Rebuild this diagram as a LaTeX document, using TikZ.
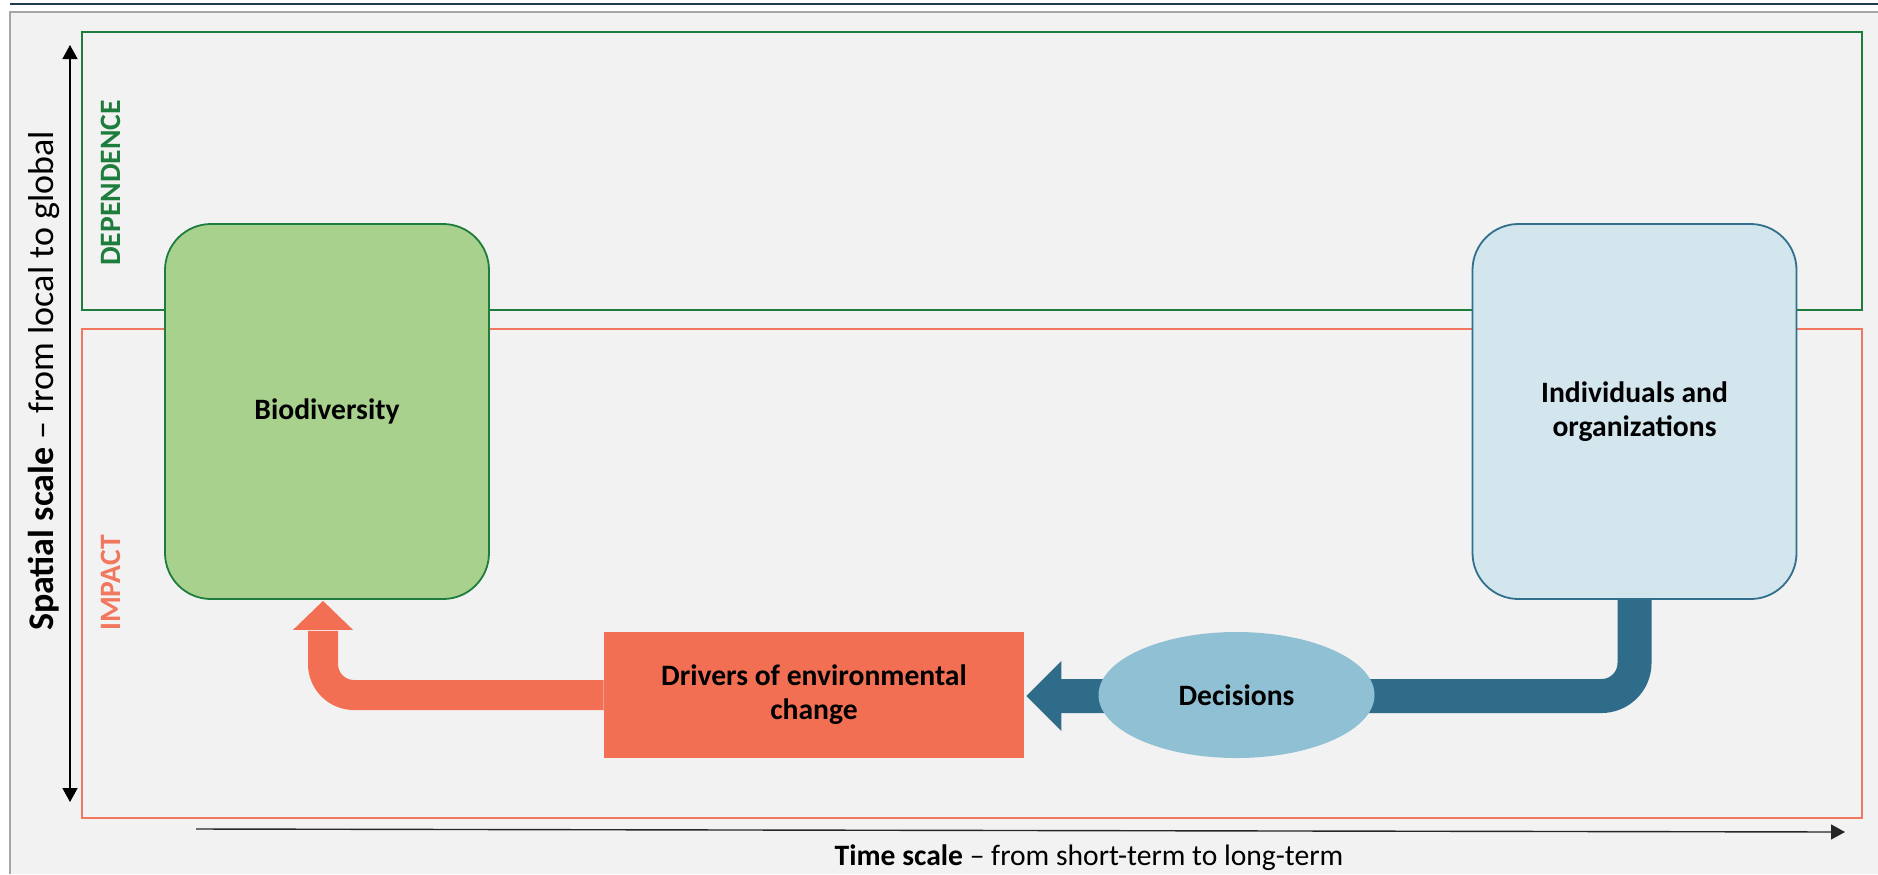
\documentclass[tikz,border=0pt]{standalone}
\usepackage{fontspec}
\setmainfont{Carlito}
\usetikzlibrary{arrows.meta,shapes.geometric,calc}

\definecolor{frameGray}{HTML}{A6A6A6}
\definecolor{paper}{HTML}{F2F2F2}
\definecolor{topLine}{HTML}{1F3B4D}
\definecolor{depGreen}{HTML}{1E7D3C}
\definecolor{impOrange}{HTML}{F2775F}
\definecolor{bioFill}{HTML}{A9D18E}
\definecolor{indFill}{HTML}{D3E6ED}
\definecolor{indLine}{HTML}{31708D}
\definecolor{flowBlue}{HTML}{2F6C89}
\definecolor{decFill}{HTML}{8FC0D4}
\definecolor{drvFill}{HTML}{F26F54}

\newcommand{\boxfont}{\fontsize{14.8pt}{17pt}\selectfont\bfseries}

\tikzset{
  regionbox/.style={draw, line width=0.9pt, inner sep=0pt, minimum width=890pt},
  actorbox/.style={line width=0.9pt, rounded corners=23pt, minimum width=162pt,
    minimum height=187.5pt, inner sep=0pt, align=center, font=\boxfont},
  regionlabel/.style={rotate=90, anchor=base, font=\boxfont},
  axisarrow/.style={line width=0.7pt, {Triangle[length=7pt,width=7.5pt]}-{Triangle[length=7pt,width=7.5pt]}},
  timearrow/.style={line width=0.7pt, black!85, -{Triangle[length=7pt,width=7.5pt]}},
  pipe/.style={line width=#1, line cap=butt},
}

\begin{document}
\begin{tikzpicture}[x=0.5pt, y=-0.5pt]
  \useasboundingbox (0,0) rectangle (1878,874);
  \fill[white] (0,0) rectangle (1878,874);

  % page frame
  \fill[paper] (10,12) rectangle (1878,874);
  \draw[frameGray, line width=1pt] (10,874) -- (10,12) -- (1878,12);
  \draw[topLine, line width=1pt] (10,4) -- (1878,4);

  % dependence and impact regions
  \node (dep) [regionbox, draw=depGreen, minimum height=139pt] at (972,171) {};
  \node (imp) [regionbox, draw=impOrange, minimum height=244.5pt] at (972,573.5) {};
  \node (deplabel) [regionlabel, text=depGreen] at (120,183) {DEPENDENCE};
  \node (implabel) [regionlabel, text=impOrange] at (120,583) {IMPACT};

  % spatial axis
  \coordinate (s0) at (70,802);
  \coordinate (s1) at (70,45);
  \draw[axisarrow] (s0) -- (s1);
  \node (slabel) [rotate=90, anchor=base, font=\fontsize{18pt}{21pt}\selectfont]
    at (53,381) {\textbf{Spatial scale} – from local to global};

  % time axis
  \coordinate (t0) at (196,829);
  \coordinate (t1) at (1845,832);
  \draw[timearrow] (t0) -- (t1);
  \node (tlabel) [anchor=base, font=\fontsize{14.8pt}{17pt}\selectfont]
    at (1089,865) {\textbf{Time scale} – from short-term to long-term};

  % actors
  \node (bio) [actorbox, draw=depGreen, fill=bioFill] at (327,411.5) {Biodiversity};
  \node (ind) [actorbox, draw=indLine, fill=indFill] at (1634.5,411.5) {Individuals and\\organizations};
  \node (drv) [fill=drvFill, minimum width=210pt, minimum height=63pt, inner sep=0pt,
    align=center, font=\boxfont] at (814,695) {Drivers of environmental\\change};

  % flow from individuals towards the drivers
  \coordinate (bluebase) at ($(drv.east)+(36,1)$);
  \draw[pipe=17pt, flowBlue, rounded corners=16.5pt] (ind.south) |- (bluebase);
  \fill[flowBlue] ($(drv.east)+(37,-34)$) -- ($(drv.east)+(2,1)$) -- ($(drv.east)+(37,36)$) -- cycle;

  % flow from the drivers up to biodiversity
  \coordinate (orbase) at ($(bio.south)+(-4,31)$);
  \draw[pipe=15pt, drvFill, rounded corners=15.5pt] (drv.west) -| (orbase);
  \fill[drvFill] ($(bio.south)+(-34,30)$) -- ($(bio.south)+(-4,1)$) -- ($(bio.south)+(26,30)$) -- cycle;

  % decisions sit on the blue flow
  \node (dec) [ellipse, fill=decFill, minimum width=138pt, minimum height=63pt, inner sep=0pt,
    font=\boxfont] at (1236.5,695) {Decisions};
\end{tikzpicture}
\end{document}
